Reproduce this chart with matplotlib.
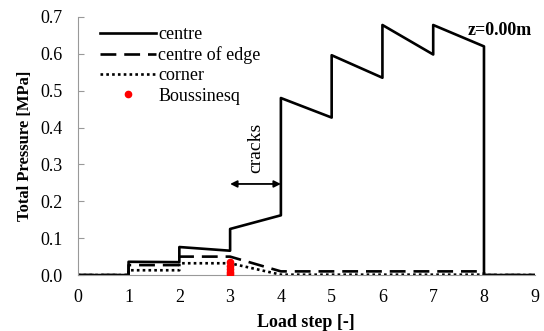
import matplotlib
matplotlib.use("Agg")
import matplotlib.pyplot as plt

plt.rcParams['font.family'] = ['Liberation Serif', 'DejaVu Serif']

# step-wise data (x positions duplicated at each load step jump)
x_steps = [0, 1, 1, 2, 2, 3, 3, 4, 4, 5, 5, 6, 6, 7, 7, 8, 8, 9]
centre = [0, 0, 0.036, 0.035, 0.076, 0.066, 0.125, 0.162, 0.480, 0.427,
          0.596, 0.535, 0.678, 0.598, 0.678, 0.620, 0, 0]
centre_edge = [0, 0, 0.027, 0.027, 0.050, 0.050, 0.050, 0.010, 0.010, 0.010,
               0.010, 0.010, 0.010, 0.010, 0.010, 0.010, 0, 0]
corner = [0, 0, 0.013, 0.013, 0.032, 0.032, 0.032, 0.001, 0.001, 0.001,
          0.001, 0.001, 0.001, 0.001, 0.001, 0.001, 0, 0]
bous_x = [3, 3, 3, 3, 3]
bous_y = [0.035, 0.025, 0.016, 0.008, 0.002]

xticks = list(range(0, 10))
yticks = [0.0, 0.1, 0.2, 0.3, 0.4, 0.5, 0.6, 0.7]

fig = plt.figure(figsize=(5.44, 3.31), dpi=100)
ax = fig.add_axes([0.143, 0.169, 0.840, 0.780])

ax.plot(x_steps, centre, color='black', lw=1.9, label='centre')
ax.plot(x_steps, centre_edge, color='black', lw=1.9, dashes=(6, 3), label='centre of edge')
ax.plot(x_steps, corner, color='black', lw=1.9, dashes=(1, 1.2), label='corner')
ax.plot(bous_x, bous_y, 'o', color='red', ms=4.5, mec='red', label='Boussinesq', zorder=5)

ax.set_xlim(0, 9)
ax.set_ylim(0, 0.7)
ax.set_xticks(xticks)
ax.set_yticks(yticks)
ax.set_yticklabels([f"{v:.1f}" for v in yticks])
ax.tick_params(axis='both', labelsize=13, colors='black')
ax.tick_params(axis='y', direction='in', length=4, color='#999999', width=0.8, pad=11)
ax.tick_params(axis='x', length=0, pad=10)
for s in ['top', 'right']:
    ax.spines[s].set_visible(False)
for s in ['left', 'bottom']:
    ax.spines[s].set_color('#999999')
    ax.spines[s].set_linewidth(0.8)

ax.set_xlabel('Load step [-]', fontsize=13, fontweight='bold', labelpad=6)
ax.set_ylabel('Total Pressure [MPa]', fontsize=12, fontweight='bold', labelpad=5)

ax.annotate('', xy=(3, 0.247), xytext=(4, 0.247),
            arrowprops=dict(arrowstyle='<|-|>', color='black', lw=1.3,
                            shrinkA=0, shrinkB=0, mutation_scale=10))
ax.text(3.5, 0.345, 'cracks', rotation=90, ha='center', va='center', fontsize=14)

ax.text(8.95, 0.663, 'z=0.00m', ha='right', va='center', fontsize=13, fontweight='bold')

leg = ax.legend(loc='upper left', bbox_to_anchor=(0.032, 0.993), frameon=False,
                fontsize=13, handlelength=3.1, handletextpad=0.15,
                labelspacing=0.18, borderaxespad=0.0)

fig.savefig('out.png', dpi=100)
